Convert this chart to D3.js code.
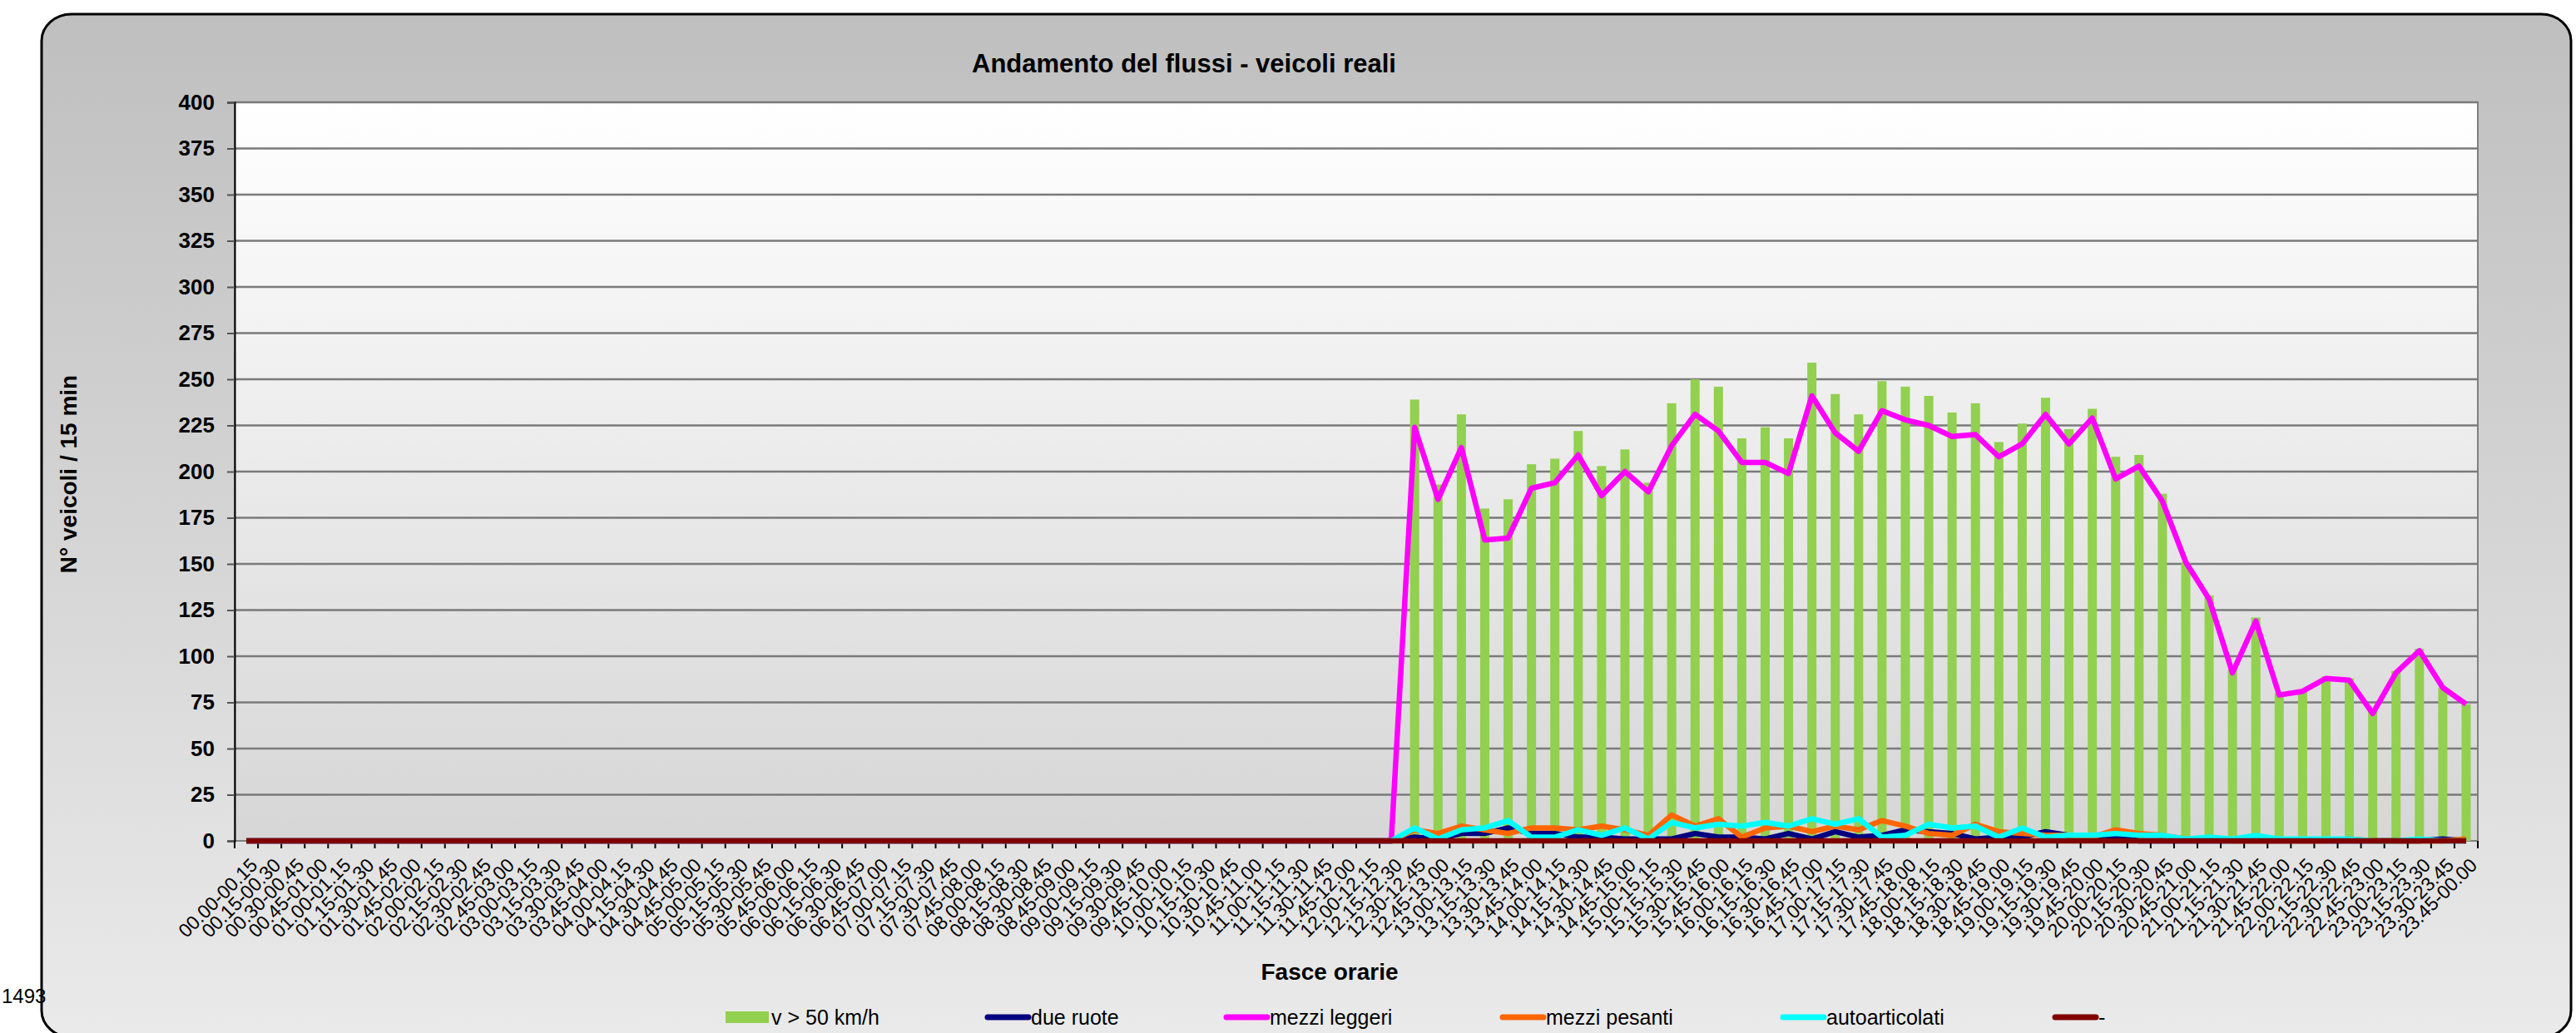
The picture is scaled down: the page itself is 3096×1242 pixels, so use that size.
<!DOCTYPE html>
<html>
<head>
<meta charset="utf-8">
<script src="https://cdn.jsdelivr.net/npm/d3@7"></script>
<style>
  body { margin: 0; background: #fff; }
  svg { display: block; }
  text { font-family: "Liberation Sans", Arial, sans-serif; }
</style>
</head>
<body>
<div id="chart-container"></div>
<script>
// time slots (x categories)
const categories = [
  "00.00-00.15","00.15-00.30","00.30-00.45","00.45-01.00","01.00-01.15","01.15-01.30","01.30-01.45","01.45-02.00",
  "02.00-02.15","02.15-02.30","02.30-02.45","02.45-03.00","03.00-03.15","03.15-03.30","03.30-03.45","03.45-04.00",
  "04.00-04.15","04.15-04.30","04.30-04.45","04.45-05.00","05.00-05.15","05.15-05.30","05.30-05.45","05.45-06.00",
  "06.00-06.15","06.15-06.30","06.30-06.45","06.45-07.00","07.00-07.15","07.15-07.30","07.30-07.45","07.45-08.00",
  "08.00-08.15","08.15-08.30","08.30-08.45","08.45-09.00","09.00-09.15","09.15-09.30","09.30-09.45","09.45-10.00",
  "10.00-10.15","10.15-10.30","10.30-10.45","10.45-11.00","11.00-11.15","11.15-11.30","11.30-11.45","11.45-12.00",
  "12.00-12.15","12.15-12.30","12.30-12.45","12.45-13.00","13.00-13.15","13.15-13.30","13.30-13.45","13.45-14.00",
  "14.00-14.15","14.15-14.30","14.30-14.45","14.45-15.00","15.00-15.15","15.15-15.30","15.30-15.45","15.45-16.00",
  "16.00-16.15","16.15-16.30","16.30-16.45","16.45-17.00","17.00-17.15","17.15-17.30","17.30-17.45","17.45-18.00",
  "18.00-18.15","18.15-18.30","18.30-18.45","18.45-19.00","19.00-19.15","19.15-19.30","19.30-19.45","19.45-20.00",
  "20.00-20.15","20.15-20.30","20.30-20.45","20.45-21.00","21.00-21.15","21.15-21.30","21.30-21.45","21.45-22.00",
  "22.00-22.15","22.15-22.30","22.30-22.45","22.45-23.00","23.00-23.15","23.15-23.30","23.30-23.45","23.45-00.00"
];

// bars: v > 50 km/h
const veloci = [
  0,0,0,0,0,0,0,0,0,0,0,0,0,0,0,0,0,0,0,0,0,0,0,0,0,0,0,0,0,0,0,0,0,0,0,0,0,0,0,0,0,0,0,0,0,0,0,0,0,0,
  239,193,231,180,185,204,207,222,203,212,194,237,250,246,218,224,218,259,242,231,
  249,246,241,232,237,216,226,240,223,234,208,209,188,151,133,93,121,80,81,89,
  88,70,92,104,83,74
];

// lines
const dueRuote = [
  0,0,0,0,0,0,0,0,0,0,0,0,0,0,0,0,0,0,0,0,0,0,0,0,0,0,0,0,0,0,0,0,0,0,0,0,0,0,0,0,0,0,0,0,0,0,0,0,0,0,
  2,1,4,4,7,4,4,2,2,1,1,1,4,2,2,1,4,1,5,2,
  3,6,5,4,1,2,2,5,3,2,2,0,0,0,0,0,0,0,0,0,
  0,0,0,0,1,0
];
const mezziLeggeri = [
  0,0,0,0,0,0,0,0,0,0,0,0,0,0,0,0,0,0,0,0,0,0,0,0,0,0,0,0,0,0,0,0,0,0,0,0,0,0,0,0,0,0,0,0,0,0,0,0,0,0,
  224,185,213,163,164,191,194,209,187,200,189,214,231,222,205,205,199,241,221,211,
  233,228,225,219,220,208,215,231,215,229,196,203,184,151,131,91,119,79,81,88,
  87,69,91,103,83,74
];
const mezziPesanti = [
  0,0,0,0,0,0,0,0,0,0,0,0,0,0,0,0,0,0,0,0,0,0,0,0,0,0,0,0,0,0,0,0,0,0,0,0,0,0,0,0,0,0,0,0,0,0,0,0,0,0,
  6,4,8,6,4,7,7,6,8,6,3,14,8,12,2,7,8,5,8,6,
  11,8,4,3,9,5,4,3,3,2,6,4,3,1,1,0,0,0,0,0,
  1,0,0,0,0,1
];
const autoarticolati = [
  0,0,0,0,0,0,0,0,0,0,0,0,0,0,0,0,0,0,0,0,0,0,0,0,0,0,0,0,0,0,0,0,0,0,0,0,0,0,0,0,0,0,0,0,0,0,0,0,0,0,
  7,1,6,7,11,2,2,6,3,7,1,10,7,9,8,10,8,12,9,12,
  2,3,9,7,8,2,7,2,3,3,4,3,3,1,2,1,3,1,1,1,
  1,0,0,1,0,0
];
const altro = [
  0,0,0,0,0,0,0,0,0,0,0,0,0,0,0,0,0,0,0,0,0,0,0,0,0,0,0,0,0,0,0,0,0,0,0,0,0,0,0,0,0,0,0,0,0,0,0,0,0,0,
  0,0,0,0,0,0,0,0,0,0,0,0,0,0,0,0,0,0,0,0,
  0,0,0,0,0,0,0,0,0,0,0,0,0,0,0,0,0,0,0,0,
  0,0,0,0,0,0
];

const yTicks = [0,25,50,75,100,125,150,175,200,225,250,275,300,325,350,375,400];

const lineSeries = [
  { name: "due ruote", values: dueRuote, color: "#000080" },
  { name: "mezzi leggeri", values: mezziLeggeri, color: "#ff00ff" },
  { name: "mezzi pesanti", values: mezziPesanti, color: "#ff6600" },
  { name: "autoarticolati", values: autoarticolati, color: "#00ffff" },
  { name: "-", values: altro, color: "#800000" }
];

const width = 3096, height = 1242;
const plotLeft = 282, plotRight = 2978, plotTop = 123, plotBottom = 1011;

var svg = d3.select("#chart-container")
  .append("svg")
  .attr("width", width)
  .attr("height", height);

var defs = svg.append("defs");
var bgGrad = defs.append("linearGradient").attr("id", "bgGrad").attr("x1", 0).attr("y1", 0).attr("x2", 0).attr("y2", 1);
bgGrad.append("stop").attr("offset", "0%").attr("stop-color", "#bfbfbf");
bgGrad.append("stop").attr("offset", "100%").attr("stop-color", "#eaeaea");
var plotGrad = defs.append("linearGradient").attr("id", "plotGrad").attr("x1", 0).attr("y1", 0).attr("x2", 0).attr("y2", 1);
plotGrad.append("stop").attr("offset", "0%").attr("stop-color", "#ffffff");
plotGrad.append("stop").attr("offset", "100%").attr("stop-color", "#d6d6d6");

// chart frame
svg.append("rect")
  .attr("x", 50).attr("y", 17)
  .attr("width", 3040).attr("height", 1230)
  .attr("rx", 36).attr("ry", 32)
  .attr("fill", "url(#bgGrad)")
  .attr("stroke", "#000")
  .attr("stroke-width", 3);

// stray label left of the frame
svg.append("text")
  .attr("x", 2).attr("y", 1206)
  .style("font-size", "24px")
  .text("1493");

// title
svg.append("text")
  .attr("x", 1423).attr("y", 87)
  .attr("text-anchor", "middle")
  .style("font-size", "31px")
  .style("font-weight", "bold")
  .text("Andamento  del flussi - veicoli reali");

// scales
var x = d3.scaleBand()
  .domain(categories)
  .range([plotLeft, plotRight])
  .padding(0);

var y = d3.scaleLinear()
  .domain([0, 400])
  .range([plotBottom, plotTop]);

// plot area
svg.append("rect")
  .attr("x", plotLeft).attr("y", plotTop)
  .attr("width", plotRight - plotLeft).attr("height", plotBottom - plotTop)
  .attr("fill", "url(#plotGrad)")
  .attr("stroke", "#808080")
  .attr("stroke-width", 2);

// gridlines
svg.append("g")
  .selectAll("line")
  .data(yTicks.filter(d => d > 0))
  .enter()
  .append("line")
  .attr("x1", plotLeft).attr("x2", plotRight)
  .attr("y1", d => y(d)).attr("y2", d => y(d))
  .attr("stroke", "#7a7a7a")
  .attr("stroke-width", 2.5);

// y axis
var yAxis = svg.append("g")
  .attr("transform", "translate(" + plotLeft + ",0)")
  .call(d3.axisLeft(y).tickValues(yTicks).tickSize(9).tickPadding(15));
yAxis.select(".domain").attr("stroke", "#000").attr("stroke-width", 2);
yAxis.selectAll(".tick line").attr("stroke", "#555").attr("stroke-width", 2);
yAxis.selectAll("text")
  .style("font-family", '"Liberation Sans", Arial, sans-serif')
  .style("font-size", "26px")
  .style("font-weight", "bold")
  .attr("fill", "#000");

// x axis ticks at band edges
svg.append("g")
  .selectAll("line")
  .data(categories.concat(["__end"]))
  .enter()
  .append("line")
  .attr("x1", (d, i) => plotLeft + i * x.bandwidth())
  .attr("x2", (d, i) => plotLeft + i * x.bandwidth())
  .attr("y1", plotBottom)
  .attr("y2", plotBottom + 9)
  .attr("stroke", "#000")
  .attr("stroke-width", 2);

svg.append("g")
  .selectAll("text")
  .data(categories)
  .enter()
  .append("text")
  .attr("transform", d => "translate(" + (x(d) + x.bandwidth() / 2 + 9) + "," + (plotBottom + 25) + ") rotate(-45)")
  .attr("text-anchor", "end")
  .attr("dy", "0.35em")
  .style("font-size", "23px")
  .text(d => d);

// bars
var barW = 11;
svg.append("g")
  .selectAll("rect")
  .data(categories)
  .enter()
  .append("rect")
  .attr("x", d => x(d) + x.bandwidth() / 2 - barW / 2)
  .attr("y", (d, i) => y(veloci[i]))
  .attr("width", barW)
  .attr("height", (d, i) => y(0) - y(veloci[i]))
  .attr("fill", "#92d050");

// lines
var line = d3.line()
  .x((d, i) => x(categories[i]) + x.bandwidth() / 2)
  .y(d => y(d));

svg.append("g")
  .selectAll("path")
  .data(lineSeries)
  .enter()
  .append("path")
  .attr("d", s => line(s.values))
  .attr("fill", "none")
  .attr("stroke", s => s.color)
  .attr("stroke-width", 6.5)
  .attr("stroke-linejoin", "round");

// axis titles
svg.append("text")
  .attr("transform", "translate(92,570) rotate(-90)")
  .attr("text-anchor", "middle")
  .style("font-size", "28px")
  .style("font-weight", "bold")
  .text("N° veicoli / 15 min");

svg.append("text")
  .attr("x", 1598).attr("y", 1178)
  .attr("text-anchor", "middle")
  .style("font-size", "28px")
  .style("font-weight", "bold")
  .text("Fasce orarie");

// legend
var legendY = 1223;
var legendX = [872, 1184, 1471, 1803, 2140, 2467];
var legendItems = [{ name: "v > 50 km/h", color: "#92d050", bar: true }].concat(lineSeries);
var legend = svg.append("g")
  .selectAll("g")
  .data(legendItems)
  .enter()
  .append("g")
  .attr("transform", (d, i) => "translate(" + legendX[i] + "," + legendY + ")");

legend.each(function (d) {
  var g = d3.select(this);
  if (d.bar) {
    g.append("rect").attr("x", 0).attr("y", -7).attr("width", 52).attr("height", 14).attr("fill", d.color);
  } else {
    g.append("line").attr("x1", 3).attr("x2", 52).attr("y1", 0).attr("y2", 0)
      .attr("stroke", d.color).attr("stroke-width", 7).attr("stroke-linecap", "round");
  }
  g.append("text")
    .attr("x", 55).attr("y", 9)
    .style("font-size", "25px")
    .text(d.name);
});
</script>
</body>
</html>
